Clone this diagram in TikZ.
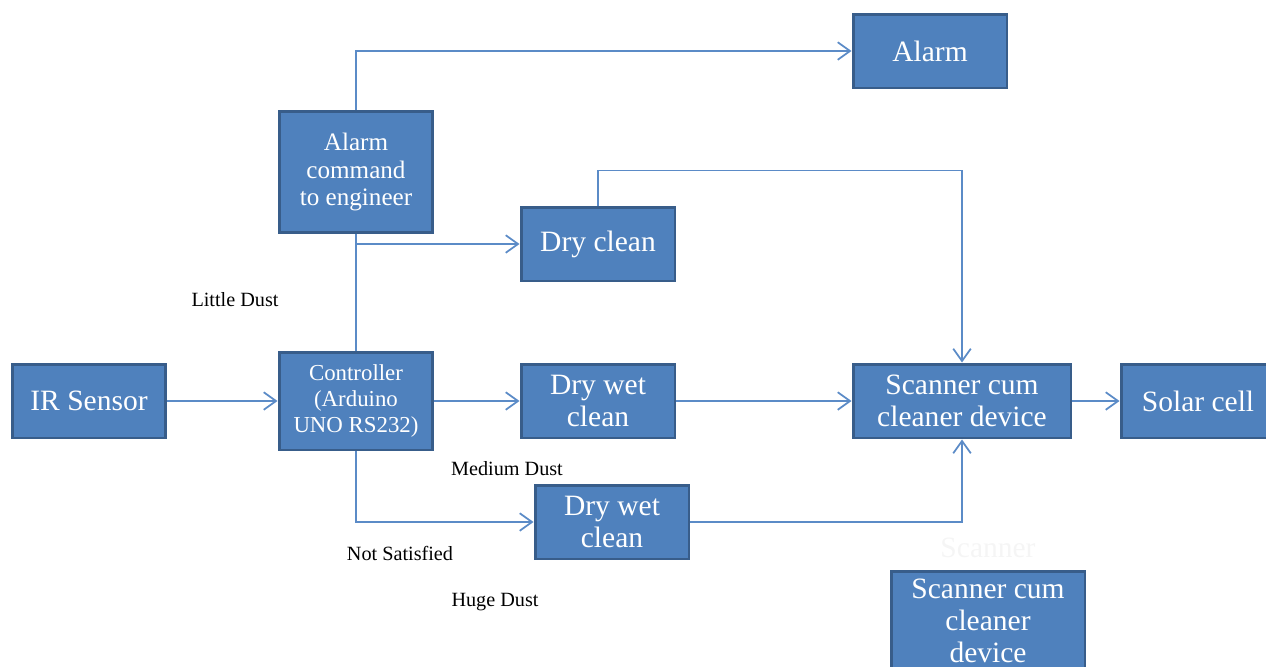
\documentclass[tikz,border=0pt]{standalone}
\usepackage{fontspec}
\setmainfont{Liberation Serif}
\usetikzlibrary{positioning,arrows.meta}
\definecolor{boxblue}{HTML}{4F81BD}
\definecolor{edgeblue}{HTML}{385D8A}
\definecolor{lineblue}{HTML}{5B8BC7}
\tikzset{
  blk/.style={draw=edgeblue, line width=1.7pt, fill=boxblue, text=white, align=center,
    inner sep=0pt, minimum width=3.08cm, minimum height=1.48cm,
    font=\fontsize{16.8}{17.8}\selectfont},
  lnk/.style={draw=lineblue, line width=1pt, -{Straight Barb[length=7pt,width=10pt]}},
  lbl/.style={font=\fontsize{11.5}{13}\selectfont}
}

\begin{document}
\begin{tikzpicture}[x=0.02cm, y=-0.02cm]
  \useasboundingbox (0,0) rectangle (1266,666);
  % boxes
  \node[blk] (ir) at (89,401) {IR Sensor};
  \node[blk, minimum height=1.96cm, font=\fontsize{13}{14.6}\selectfont] (ctrl) at (356,401) {Controller\\(Arduino\\UNO RS232)};
  \node[blk, minimum height=2.44cm, font=\fontsize{14.3}{15.8}\selectfont] (cmd) at (356,172) {Alarm\\command\\to engineer};
  \node[blk] (alarm) at (930,51) {Alarm};
  \node[blk] (dry) at (598,244) {Dry clean};
  \node[blk] (wet) at (598,401) {Dry wet\\clean};
  \node[blk] (wet2) at (612,522) {Dry wet\\clean};
  \node[blk, minimum width=4.36cm] (scan) at (962,401) {Scanner cum\\cleaner device};
  \node[blk] (solar) at (1198,401) {Solar cell};
  \node[blk, minimum width=3.88cm, minimum height=1.98cm, anchor=north, font=\fontsize{16.8}{18}\selectfont] (scan2) at (988,570) {Scanner cum\\cleaner\\device};
  \node[text=black!4, font=\fontsize{16.8}{18}\selectfont] (ghost) at (988,548) {Scanner};

  % labels
  \node[lbl] (little) at (235,300) {Little Dust};
  \node[lbl] (medium) at (507,469) {Medium Dust};
  \node[lbl] (notsat) at (400,553) {Not Satisfied};
  \node[lbl] (huge) at (495,602) {Huge Dust};

  % connectors
  \draw[lnk] (ir) -- (ctrl);
  \draw[lnk] (ctrl) -- (wet);
  \draw[lnk] (wet) -- (scan);
  \draw[lnk] (scan) -- (solar);
  \draw[lnk, -] (ctrl) -- (cmd);
  \draw[lnk] (cmd.north) |- (alarm);
  \coordinate (fork) at (356,244);
  \draw[lnk] (fork) -- (dry);
  \draw[lnk] (dry.north) -- ++(0,-35) -| (scan.north);
  \draw[lnk] (ctrl.south) |- (wet2);
  \draw[lnk] (wet2) -| (scan.south);
\end{tikzpicture}
\end{document}
